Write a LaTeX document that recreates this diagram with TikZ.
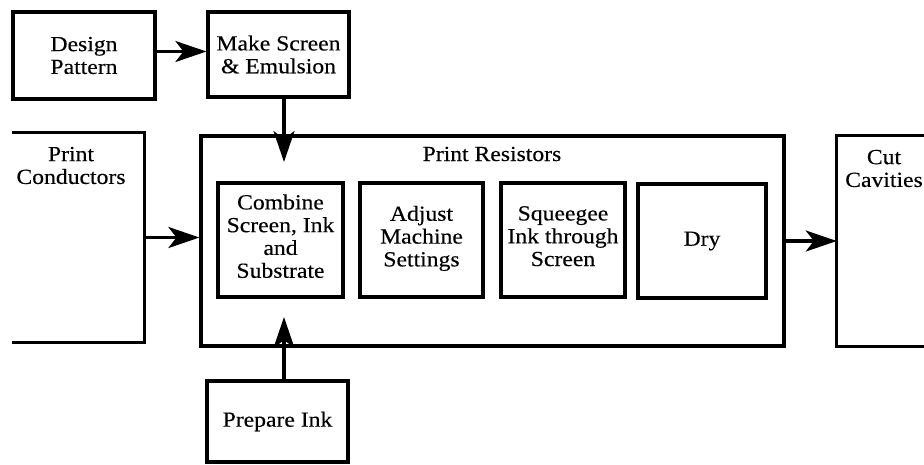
\documentclass[tikz,border=0pt]{standalone}
\usepackage{fontspec}
\setmainfont[FakeStretch=1.1,FakeBold=0.3]{Liberation Serif}
\usetikzlibrary{arrows.meta}
\begin{document}
\begin{tikzpicture}[x=1pt,y=-1pt,
  lbl/.style={align=center,inner sep=0pt,font=\fontsize{21.5}{22.8}\selectfont},
  box/.style={lbl,draw,line width=3.2pt,rectangle},
  frame/.style={rectangle,inner sep=0pt},
  edge/.style={line width=3.2pt},
  flow/.style={line width=3.2pt,-{Stealth[length=31pt,width=21pt,inset=8pt]}}]
\useasboundingbox (0,0) rectangle (924,464);

% preparation steps at the top
\node[box,minimum width=142pt,minimum height=87pt] (design) at (84,55.5) {Design\\Pattern};
\node[box,minimum width=141pt,minimum height=85pt] (make) at (278.5,54.5) {Make Screen\\\& Emulsion};

% main printing stage with its sub-steps
\node[box,minimum width=583pt,minimum height=210pt] (res) at (492.5,241) {};
\node[lbl] (restitle) at (492,154) {Print Resistors};
\node[box,minimum width=125pt,minimum height=114pt] (combine) at (280.5,240) {Combine\\Screen, Ink\\and\\Substrate\\[-15pt]};
\node[box,minimum width=123pt,minimum height=114pt] (adjust) at (421.5,240) {Adjust\\Machine\\Settings\\[-15pt]};
\node[box,minimum width=124pt,minimum height=114pt] (squeegee) at (563,240) {Squeegee\\Ink through\\Screen\\[-15pt]};
\node[box,minimum width=128pt,minimum height=114pt] (dry) at (702,241) {Dry};

% ink supply
\node[box,minimum width=141pt,minimum height=81pt] (prep) at (277.5,421.5) {Prepare Ink};

% neighbouring stages, only partly shown
\node[frame,minimum width=132pt,minimum height=209pt] (cond) at (78,237.5) {};
\draw[edge] (cond.north west) -- (cond.north east) -- (cond.south east) -- (cond.south west);
\node[lbl] (condtext) at (71,165.5) {Print\\Conductors};

\node[frame,minimum width=93pt,minimum height=210pt] (cav) at (883.5,241) {};
\draw[edge] (cav.north east) -- (cav.north west) -- (cav.south west) -- (cav.south east);
\node[lbl] (cavtext) at (884,168.5) {Cut\\Cavities};

% arrow tips that stop inside the printing stage
\coordinate (tipA) at (284,162);
\coordinate (tipB) at (284,317);

% connectors
\draw[flow] ([yshift=4pt]design.east) -- ([yshift=4pt]design.east -| make.west);
\draw[flow] (make.south -| tipA) -- (tipA);
\draw[flow] (prep.north -| tipB) -- (tipB);
\draw[flow] (cond.east) -- (cond.east -| res.west);
\draw[flow] (res.east) -- (res.east -| cav.west);
\end{tikzpicture}
\end{document}
